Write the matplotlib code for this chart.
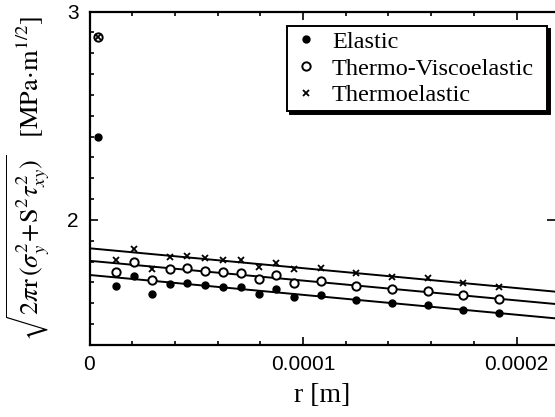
import numpy as np
import matplotlib
matplotlib.use("Agg")
import matplotlib.pyplot as plt
from matplotlib.ticker import MultipleLocator

# ── Values ────────────────────────────────────────────────────────────
r_pts = [4.0e-6, 12.5e-6, 20.8e-6, 29.2e-6, 37.5e-6, 45.8e-6, 54.2e-6, 62.5e-6,
         70.8e-6, 79.2e-6, 87.5e-6, 95.8e-6, 108.3e-6, 125.0e-6, 141.7e-6,
         158.3e-6, 175.0e-6, 191.7e-6]
r_elastic0 = 4.2e-6

elastic = [2.396, 1.684, 1.731, 1.645, 1.694, 1.697, 1.688, 1.680, 1.678, 1.645,
           1.670, 1.632, 1.638, 1.617, 1.601, 1.590, 1.569, 1.552]
thermo_visco = [2.876, 1.752, 1.800, 1.712, 1.763, 1.769, 1.756, 1.750, 1.747,
                1.715, 1.736, 1.697, 1.707, 1.683, 1.669, 1.659, 1.640, 1.619]
thermoelastic = [2.876, 1.808, 1.859, 1.766, 1.821, 1.827, 1.816, 1.808, 1.808,
                 1.773, 1.792, 1.763, 1.768, 1.744, 1.728, 1.720, 1.699, 1.680]

# fitted straight lines: value at r = 0 and slope [1/m]
fit_intercept = {"elastic": 1.736, "visco": 1.804, "thermo": 1.864}
fit_slope = {"elastic": -954.0, "visco": -950.0, "thermo": -954.0}

x_max = 2.18e-4
y_min, y_max = 1.4, 3.0

# ── Style ─────────────────────────────────────────────────────────────
plt.rcParams["font.family"] = ["Liberation Serif", "DejaVu Serif"]
plt.rcParams["mathtext.fontset"] = "stix"

fig = plt.figure(figsize=(5.55, 4.17), dpi=100)
ax = fig.add_axes([89.5 / 555, 1 - 345 / 417, 1 - 89.5 / 555, (345 - 11.5) / 417])

r_e = [r_elastic0] + r_pts[1:]
ax.plot(r_e, elastic, "o", color="black", ms=5.0, label="Elastic", zorder=3)
ax.plot(r_pts, thermo_visco, "o", mfc="white", mec="black", mew=1.4, ms=6.0,
        label="Thermo-Viscoelastic", zorder=3)
ax.plot(r_pts, thermoelastic, "x", color="black", mew=1.3, ms=4.0,
        label="Thermoelastic", zorder=4)

r_line = np.array([0.0, x_max])
for key in ["elastic", "visco", "thermo"]:
    ax.plot(r_line, fit_intercept[key] + fit_slope[key] * r_line, "-",
            color="black", lw=1.4, zorder=2)

ax.set_xlim(0, x_max)
ax.set_ylim(y_min, y_max)

ax.set_xticks([0, 1e-4, 2e-4])
ax.set_xticklabels(["0", "0.0001", "0.0002"])
ax.set_yticks([2, 3])
ax.set_yticklabels(["2", "3"])
ax.xaxis.set_minor_locator(MultipleLocator(2e-5))
ax.yaxis.set_minor_locator(MultipleLocator(0.1))

for lbl in ax.get_xticklabels() + ax.get_yticklabels():
    lbl.set_family("Liberation Sans")
    lbl.set_fontsize(15)

ax.tick_params(which="both", direction="in", top=True, right=True, width=1.2)
ax.tick_params(which="major", length=6)
ax.tick_params(which="minor", length=3)
ax.tick_params(axis="y", which="minor", right=False)
ax.tick_params(axis="y", which="major", pad=8)
ax.tick_params(axis="x", which="major", pad=7)

for side in ["left", "bottom", "top"]:
    ax.spines[side].set_linewidth(1.6)
ax.spines["right"].set_visible(False)

ax.set_xlabel("r [m]", fontsize=20, labelpad=7)
ax.set_ylabel(r"$\sqrt{2\pi\mathrm{r}\,(\sigma_y^2\!+\!\mathrm{S}^2\tau_{xy}^2)}\quad[\mathrm{MPa}\!\cdot\!\mathrm{m}^{1/2}]$",
              fontsize=19)
ax.yaxis.set_label_coords(-0.08, 0.5)

# legend box spans a fixed width (expand mode), text stays left aligned
leg = ax.legend(loc="upper left", bbox_to_anchor=(0.4243, 0.708, 0.5585, 0.2485),
                mode="expand", borderaxespad=0,
                fontsize=17.5, numpoints=1, handlelength=1.2, handletextpad=0.45,
                labelspacing=0.19, borderpad=0.2, fancybox=False, framealpha=1,
                edgecolor="black", shadow={"color": "black", "alpha": 1})
leg.get_frame().set_linewidth(1.4)

fig.savefig("out.png", dpi=100)
